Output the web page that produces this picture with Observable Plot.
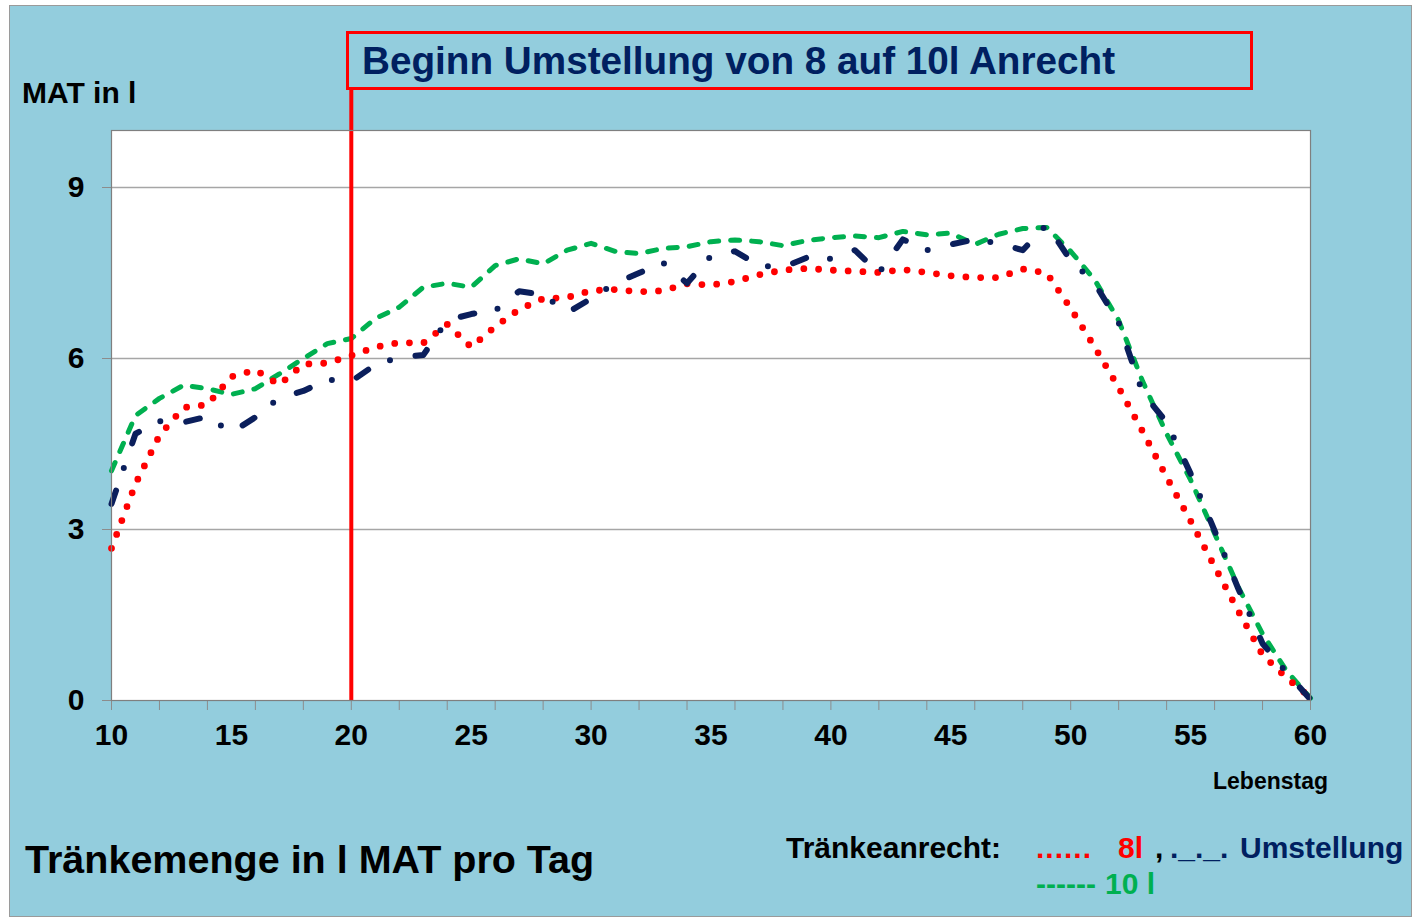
<!DOCTYPE html>
<html>
<head>
<meta charset="utf-8">
<script src="https://cdn.jsdelivr.net/npm/d3@7"></script>
<script src="https://cdn.jsdelivr.net/npm/@observablehq/plot@0.6"></script>
<style>
  html, body { margin: 0; padding: 0; background: #ffffff; }
  body { width: 1412px; height: 917px; position: relative; overflow: hidden;
         font-family: "Liberation Sans", Arial, Helvetica, sans-serif; font-weight: bold; }
  #panel { position: absolute; left: 9px; top: 5px; width: 1403px; height: 912px;
           background: #93CDDD; border: 1px solid #9a9a9a; box-sizing: border-box; }
  #chart { position: absolute; left: 0; top: 0; }
  .t { position: absolute; white-space: pre; line-height: 1; }
  #note { position: absolute; left: 346px; top: 31px; width: 907px; height: 59px;
          border: 3px solid #FF0000; box-sizing: border-box; }
</style>
</head>
<body>
<div id="panel"></div>
<div id="chart"></div>
<div id="note"></div>
<div class="t" style="left:362px; top:42px; font-size:38.7px; color:#002060;">Beginn Umstellung von 8 auf 10l Anrecht</div>
<div class="t" style="left:22px; top:78px; font-size:30px; color:#000;">MAT in l</div>
<div class="t" style="left:1213px; top:770px; font-size:23px; color:#000;">Lebenstag</div>
<div class="t" style="left:25px; top:840px; font-size:39.5px; color:#000;">Tränkemenge in l MAT pro Tag</div>
<div class="t" style="left:786px; top:833px; font-size:30px; color:#000;">Tränkeanrecht:</div>
<div class="t" style="left:1036px; top:833px; font-size:30px; color:#FF0000; letter-spacing:1px;">......</div>
<div class="t" style="left:1118px; top:833px; font-size:30px; color:#FF0000;">8l</div>
<div class="t" style="left:1155px; top:833px; font-size:30px; color:#000;">,</div>
<div class="t" style="left:1170px; top:833px; font-size:30px; color:#002060;">._._.</div>
<div class="t" style="left:1240px; top:833px; font-size:30px; color:#002060;">Umstellung</div>
<div class="t" style="left:1036px; top:869px; font-size:30px; color:#00B050;">------</div>
<div class="t" style="left:1105px; top:869px; font-size:30px; color:#00B050;">10 l</div>
<script>
// Lebenstag (day of life)
const days = [10,11,12,13,14,15,16,17,18,19,20,21,22,23,24,25,26,27,28,29,30,31,32,33,34,35,36,37,38,39,40,41,42,43,44,45,46,47,48,49,50,51,52,53,54,55,56,57,58,59,60];

// Tränkeanrecht 8 l (red dotted)
const red8 = [2.67,3.8,4.65,5.14,5.19,5.68,5.8,5.54,5.9,5.92,
              6.05,6.2,6.28,6.27,6.6,6.2,6.56,6.86,7.05,7.07,
              7.19,7.21,7.17,7.19,7.31,7.29,7.35,7.47,7.55,7.58,
              7.55,7.53,7.51,7.56,7.51,7.45,7.42,7.42,7.57,7.5,
              6.88,6.2,5.49,4.72,3.92,3.15,2.35,1.56,0.8,0.4,0.05];

// Umstellung (navy dash-dot)
const umst = [3.45,4.68,4.9,4.88,4.98,4.7,4.97,5.31,5.43,5.63,
              5.6,5.89,6.02,6.06,6.67,6.78,6.84,7.18,7.12,6.8,
              7.05,7.32,7.5,7.68,7.32,7.8,7.88,7.63,7.6,7.77,
              7.75,7.9,7.5,8.09,7.9,8.0,8.09,8.02,7.9,8.35,
              7.72,7.32,6.63,5.4,4.88,3.98,2.98,1.95,1.0,0.49,0.02];

// Tränkeanrecht 10 l (green dashed)
const green10 = [4.03,5.0,5.3,5.53,5.47,5.37,5.47,5.73,6.0,6.26,
                 6.35,6.7,6.9,7.25,7.32,7.25,7.63,7.75,7.66,7.9,
                 8.02,7.88,7.84,7.93,7.96,8.05,8.08,8.05,7.98,8.07,
                 8.12,8.15,8.12,8.23,8.17,8.2,8.0,8.18,8.28,8.3,
                 7.88,7.38,6.67,5.6,4.68,3.87,2.93,1.98,1.17,0.52,0.04];

const yTicks = [0,3,6,9];
const xTickMarks = [10,12,14,16,18,20,22,24,26,28,30,32,34,36,38,40,42,44,46,48,50,52,54,56,58,60];
const xTickLabels = [10,15,20,25,30,35,40,45,50,55,60];
const switchDay = [20];   // Beginn Umstellung
const switchLineTop = [10.72];

const rows = (vals) => days.map((d, i) => ({day: d, v: vals[i]}));
const font = '"Liberation Sans", Arial, sans-serif';

const chart = Plot.plot({
  width: 1412,
  height: 800,
  marginLeft: 111,
  marginRight: 102,
  marginTop: 130,
  marginBottom: 100,
  style: {background: "transparent", fontFamily: font, fontWeight: "bold", color: "#000", overflow: "visible"},
  x: {domain: [10, 60]},
  y: {domain: [0, 10]},
  marks: [
    Plot.frame({fill: "white", stroke: null}),
    Plot.gridY(yTicks.filter(v => v > 0), {stroke: "#a6a6a6", strokeOpacity: 1, strokeWidth: 1.5}),
    Plot.axisY({ticks: yTicks, tickSize: 9, tickPadding: 18, stroke: "#8c8c8c", fill: "#000",
                fontSize: 30, fontWeight: "bold", fontFamily: font, label: null}),
    Plot.axisX({ticks: xTickMarks, tickSize: 10, stroke: "#8c8c8c", tickFormat: () => "", label: null}),
    Plot.axisX({ticks: xTickLabels, tickSize: 0, tickPadding: 23, fill: "#000",
                fontSize: 30, fontWeight: "bold", fontFamily: font, label: null}),
    Plot.lineY(rows(green10), {x: "day", y: "v", stroke: "#00B050", strokeWidth: 5,
                strokeDasharray: "9 12", strokeLinecap: "round", strokeLinejoin: "round"}),
    Plot.lineY(rows(red8), {x: "day", y: "v", stroke: "#FF0000", strokeWidth: 6.8,
                strokeDasharray: "0 14.8", strokeLinecap: "round", strokeLinejoin: "round"}),
    Plot.lineY(rows(umst), {x: "day", y: "v", stroke: "#0B1F5C", strokeWidth: 6,
                strokeDasharray: "14 24 0 26", strokeLinecap: "round", strokeLinejoin: "round"}),
    Plot.ruleX(switchDay, {y1: 0, y2: switchLineTop[0], stroke: "#FF0000", strokeWidth: 4}),
    Plot.frame({stroke: "#7f7f7f", strokeWidth: 1.2})
  ]
});
document.getElementById("chart").appendChild(chart);
</script>
</body>
</html>
